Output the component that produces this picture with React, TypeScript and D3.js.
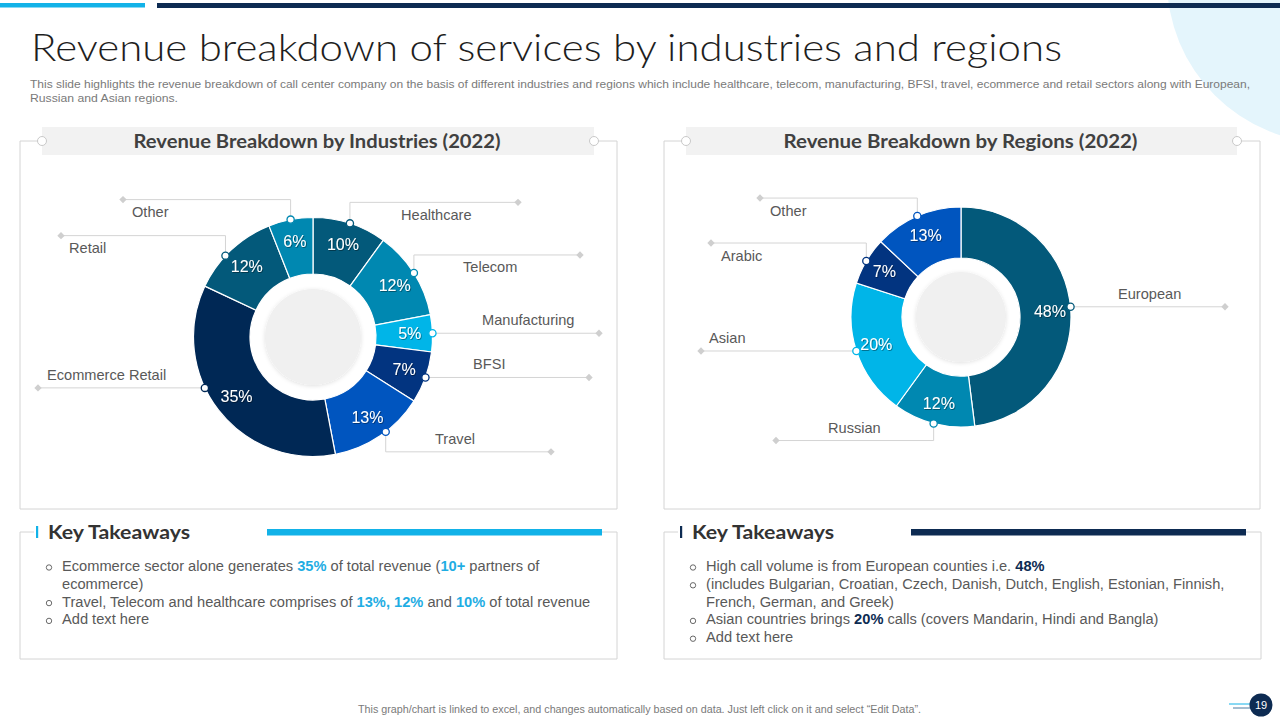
import React from 'react'
import * as d3 from 'd3'

// revenue share by industry, clockwise from 12 o'clock
const industryNames = ['Healthcare', 'Telecom', 'Manufacturing', 'BFSI', 'Travel', 'Ecommerce Retail', 'Retail', 'Other']
const industryShares = [10, 12, 5, 7, 13, 35, 12, 6]

// revenue share by region, clockwise from 12 o'clock
const regionNames = ['European', 'Russian', 'Asian', 'Arabic', 'Other']
const regionShares = [48, 12, 20, 7, 13]

const TEAL_DARK = '#03597a'
const TEAL = '#0088b1'
const CYAN = '#00b5e8'
const NAVY = '#023480'
const ROYAL = '#0055bf'
const INK = '#002855'
const BRAND_NAVY = '#0d2b52'

const industryColors = [TEAL_DARK, TEAL, CYAN, NAVY, ROYAL, INK, TEAL_DARK, TEAL]
const regionColors = [TEAL_DARK, TEAL, CYAN, NAVY, ROYAL]

// callout geometry: rise = vertical elbow from the dot, end / label = x offsets from the centre
type Leader = { rise: number; end: number; label: number; at?: number }

const industryLeaders: Leader[] = [
  { rise: -21, end: 205, label: 88 },
  { rise: -18, end: 267, label: 150 },
  { rise: 0, end: 286, label: 169 },
  { rise: 0, end: 276, label: 160 },
  { rise: 20, end: 238, label: 122, at: 0.43 },
  { rise: 0, end: -275, label: -266, at: 0.6 },
  { rise: -20, end: -252, label: -244, at: 0.41 },
  { rise: -20, end: -190, label: -181 }
]

const regionLeaders: Leader[] = [
  { rise: 0, end: 264, label: 157, at: 0.49 },
  { rise: 17, end: -185, label: -133 },
  { rise: 0, end: -260, label: -252 },
  { rise: -18, end: -250, label: -240 },
  { rise: -18, end: -201, label: -191 }
]

type Seg = [string, boolean]
type Line = { bullet: boolean; segs: Seg[] }

const industryNotes: Line[] = [
  { bullet: true, segs: [['Ecommerce sector alone generates ', false], ['35%', true], [' of total revenue (', false], ['10+', true], [' partners of', false]] },
  { bullet: false, segs: [['ecommerce)', false]] },
  { bullet: true, segs: [['Travel, Telecom and healthcare comprises of ', false], ['13%, 12%', true], [' and ', false], ['10%', true], [' of total revenue', false]] },
  { bullet: true, segs: [['Add text here', false]] }
]

const regionNotes: Line[] = [
  { bullet: true, segs: [['High call volume is from European counties i.e. ', false], ['48%', true]] },
  { bullet: true, segs: [['(includes Bulgarian, Croatian, Czech, Danish, Dutch, English, Estonian, Finnish,', false]] },
  { bullet: false, segs: [['French, German, and Greek)', false]] },
  { bullet: true, segs: [['Asian countries brings ', false], ['20%', true], [' calls (covers Mandarin, Hindi and Bangla)', false]] },
  { bullet: true, segs: [['Add text here', false]] }
]

const ARIAL = '"Liberation Sans", Arial, sans-serif'
const GOTHIC = 'Lato, "Open Sans", sans-serif'
const GREY_TEXT = '#595959'
const RULE = '#d4d4d4'

type DonutProps = {
  cx: number
  cy: number
  outer: number
  inner: number
  core: number
  names: string[]
  values: number[]
  colors: string[]
  leaders: Leader[]
}

function Donut({ cx, cy, outer, inner, core, names, values, colors, leaders }: DonutProps) {
  const slices = d3.pie<number>().sort(null).value(d => d)(values)
  const arc = d3.arc<d3.PieArcDatum<number>>().innerRadius(inner).outerRadius(outer)
  const labelR = outer * 0.81
  const polar = (r: number, a: number) => [r * Math.sin(a), -r * Math.cos(a)]

  return (
    <g transform={`translate(${cx},${cy})`}>
      {slices.map((s, i) => (
        <path key={i} d={arc(s) || ''} fill={colors[i]} stroke="#fff" strokeWidth={1.2} />
      ))}
      <circle r={core} fill="#f0f0f0" filter="url(#coreShadow)" />
      {slices.map((s, i) => {
        const mid = (s.startAngle + s.endAngle) / 2
        const [x, y] = polar(labelR, mid)
        return (
          <text key={i} x={x} y={y} textAnchor="middle" dominantBaseline="central"
            fill="#fff" fontFamily={ARIAL} fontSize={16} filter="url(#textShadow)">
            {`${values[i]}%`}
          </text>
        )
      })}
      {slices.map((s, i) => {
        const l = leaders[i]
        const a = s.startAngle + (s.endAngle - s.startAngle) * (l.at ?? 0.5)
        const [x, y] = polar(outer, a)
        const ly = y + l.rise
        const d = l.rise === 0 ? `M${x},${y}H${l.end}` : `M${x},${y}V${ly}H${l.end}`
        const ty = l.rise < 0 ? ly + 12.5 : ly - 13
        return (
          <g key={i}>
            <path d={d} fill="none" stroke={RULE} strokeWidth={1} />
            <rect x={l.end - 2.6} y={ly - 2.6} width={5.2} height={5.2} fill="#cfcfcf"
              transform={`rotate(45 ${l.end} ${ly})`} />
            <circle cx={x} cy={y} r={3.6} fill="#fff" stroke={colors[i]} strokeWidth={1.3} />
            <text x={l.label} y={ty} dominantBaseline="central" fill={GREY_TEXT}
              fontFamily={ARIAL} fontSize={14.6}>
              {names[i]}
            </text>
          </g>
        )
      })}
    </g>
  )
}

function Panel({ x0, x1, title, titleWidth }: { x0: number; x1: number; title: string; titleWidth: number }) {
  const top = 141
  const bottom = 509
  const hx0 = x0 + 22
  const hx1 = x1 - 23
  return (
    <g>
      <path d={`M${hx0},${top}H${x0}V${bottom}H${x1}V${top}H${hx1}`} fill="none" stroke={RULE} strokeWidth={1} />
      <rect x={hx0} y={127} width={hx1 - hx0} height={28} fill="#f2f2f2" />
      <circle cx={hx0} cy={top} r={4.5} fill="#fff" stroke="#c9c9c9" strokeWidth={1} />
      <circle cx={hx1} cy={top} r={4.5} fill="#fff" stroke="#c9c9c9" strokeWidth={1} />
      <text x={(hx0 + hx1) / 2 - 1} y={141} textAnchor="middle" dominantBaseline="central"
        fontFamily={GOTHIC} fontWeight={700} fontSize={18} fill="#404040"
        textLength={titleWidth} lengthAdjust="spacingAndGlyphs">
        {title}
      </text>
    </g>
  )
}

function Takeaways({ x0, x1, accent, lines, bold }: { x0: number; x1: number; accent: string; lines: Line[]; bold: string }) {
  const top = 532
  const bottom = 659
  const barX0 = x0 + 247
  const barX1 = x1 - 15
  const ys = d3.range(lines.length).map(i => 566 + i * 17.8)
  return (
    <g>
      <path d={`M${x0 + 14},${top}H${x0}V${bottom}H${x1}V${top}H${barX1}`} fill="none" stroke={RULE} strokeWidth={1} />
      <rect x={x0 + 16} y={526} width={2.2} height={12} fill={accent} />
      <text x={x0 + 28} y={top} dominantBaseline="central" fontFamily={GOTHIC} fontWeight={700}
        fontSize={18.5} fill="#333" textLength={142} lengthAdjust="spacingAndGlyphs">
        Key Takeaways
      </text>
      <rect x={barX0} y={529} width={barX1 - barX0} height={6.5} fill={accent} />
      {lines.map((ln, i) => (
        <g key={i}>
          {ln.bullet && <circle cx={x0 + 29} cy={ys[i] + 1.5} r={2.7} fill="none" stroke={GREY_TEXT} strokeWidth={0.9} />}
          <text x={x0 + 42} y={ys[i]} dominantBaseline="central" fontFamily={ARIAL} fontSize={14.65} fill={GREY_TEXT}>
            {ln.segs.map(([t, b], j) => (
              <tspan key={j} fill={b ? bold : GREY_TEXT} fontWeight={b ? 700 : 400}>{t}</tspan>
            ))}
          </text>
        </g>
      ))}
    </g>
  )
}

export default function App() {
  return (
    <svg width={1280} height={720} viewBox="0 0 1280 720"
      style={{ position: 'absolute', left: 0, top: 0, background: '#fff' }}>
      <defs>
        <filter id="coreShadow" x="-30%" y="-30%" width="160%" height="160%">
          <feDropShadow dx={0} dy={1} stdDeviation={2} floodColor="#000" floodOpacity={0.12} />
        </filter>
        <filter id="textShadow" x="-20%" y="-20%" width="140%" height="140%">
          <feDropShadow dx={0.8} dy={0.8} stdDeviation={0.7} floodColor="#000" floodOpacity={0.45} />
        </filter>
      </defs>

      <circle cx={1330} cy={-20} r={163} fill="#e4f5fc" />
      <rect x={0} y={3} width={145} height={4.5} fill="#12b2e8" />
      <rect x={157} y={3} width={1123} height={5} fill={BRAND_NAVY} />

      <text x={31} y={61} fontFamily={GOTHIC} fontWeight={300} fontSize={38} fill="#1e1e1e"
        textLength={1031} lengthAdjust="spacingAndGlyphs">
        Revenue breakdown of services by industries and regions
      </text>
      <text x={30} y={88} fontFamily={ARIAL} fontSize={11.5} fill="#7a7a7a"
        textLength={1220} lengthAdjust="spacingAndGlyphs">
        This slide highlights the revenue breakdown of call center company on the basis of different industries and regions which include healthcare, telecom, manufacturing, BFSI, travel,  ecommerce and retail sectors along with European,
      </text>
      <text x={30} y={102} fontFamily={ARIAL} fontSize={11.5} fill="#7a7a7a"
        textLength={148} lengthAdjust="spacingAndGlyphs">
        Russian and Asian regions.
      </text>

      <Panel x0={20} x1={617} title="Revenue Breakdown by Industries (2022)" titleWidth={367} />
      <Panel x0={664} x1={1260} title="Revenue Breakdown by Regions (2022)" titleWidth={354} />

      <Donut cx={313} cy={337} outer={119.5} inner={63} core={48}
        names={industryNames} values={industryShares} colors={industryColors} leaders={industryLeaders} />
      <Donut cx={961} cy={317} outer={110} inner={59} core={45}
        names={regionNames} values={regionShares} colors={regionColors} leaders={regionLeaders} />

      <Takeaways x0={20} x1={617} accent="#12b2e8" lines={industryNotes} bold="#1fade3" />
      <Takeaways x0={664} x1={1261} accent={BRAND_NAVY} lines={regionNotes} bold={BRAND_NAVY} />

      <text x={358} y={709} dominantBaseline="central" fontFamily={ARIAL} fontSize={10} fill="#7a7a7a"
        textLength={563} lengthAdjust="spacingAndGlyphs">
        This graph/chart is linked to excel, and changes automatically based on data. Just left click on it and select “Edit Data”.
      </text>
      <line x1={1229} x2={1252} y1={704} y2={704} stroke="#12b2e8" strokeWidth={1} />
      <line x1={1233} x2={1252} y1={708} y2={708} stroke="#4a7aa0" strokeWidth={1} />
      <circle cx={1261} cy={705} r={11.5} fill={BRAND_NAVY} />
      <text x={1261} y={705} textAnchor="middle" dominantBaseline="central" fontFamily={ARIAL}
        fontSize={11} fill="#fff">19</text>
    </svg>
  )
}
